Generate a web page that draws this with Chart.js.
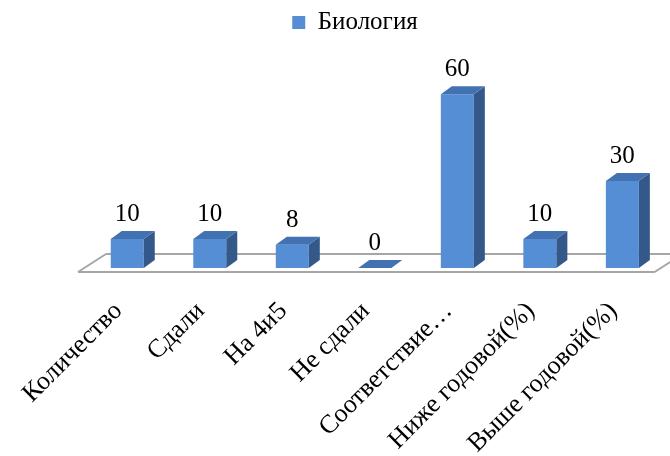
<!DOCTYPE html>
<html>
<head>
<meta charset="utf-8">
<script src="https://cdn.jsdelivr.net/npm/chart.js@4"></script>
<style>
  html, body { margin: 0; padding: 0; background: #fff; }
  #wrap { width: 670px; height: 456px; }
</style>
</head>
<body>
<div id="wrap"><canvas id="chart" width="670" height="456"></canvas></div>
<script>
const categories = ["Количество", "Сдали", "На 4и5", "Не сдали", "Соответствие…", "Ниже годовой(%)", "Выше годовой(%)"];
const seriesName = "Биология";
const values = [10, 10, 8, 0, 60, 10, 30];

const FRONT = "#568ED6";
const TOP = "#4272B2";
const SIDE = "#34588A";
const DX = 11, DY = 8;
const SERIF = "'Liberation Serif', 'Times New Roman', serif";

// floor under the bars
const floorPlugin = {
  id: "floor",
  beforeDatasetsDraw(chart) {
    const ctx = chart.ctx;
    const area = chart.chartArea;
    const base = chart.scales.y.getPixelForValue(0);
    ctx.save();
    ctx.strokeStyle = "#a6a6a6";
    ctx.lineWidth = 2;
    ctx.beginPath();
    ctx.moveTo(area.left + 20, base - 14);
    ctx.lineTo(area.right + 24, base - 14);
    ctx.moveTo(area.left - 8, base + 4);
    ctx.lineTo(area.right - 9, base + 4);
    ctx.moveTo(area.left - 8, base + 4);
    ctx.lineTo(area.left + 20, base - 14);
    ctx.moveTo(area.right - 9, base + 4);
    ctx.lineTo(area.right + 19, base - 14);
    ctx.stroke();
    ctx.restore();
  }
};

// top and side faces + value labels
const boxPlugin = {
  id: "box3d",
  afterDatasetsDraw(chart) {
    const ctx = chart.ctx;
    const meta = chart.getDatasetMeta(0);
    ctx.save();
    meta.data.forEach((bar, i) => {
      const l = bar.x - bar.width / 2;
      const r = bar.x + bar.width / 2;
      const t = bar.y;
      const b = bar.base;

      ctx.fillStyle = SIDE;
      ctx.beginPath();
      ctx.moveTo(r, t);
      ctx.lineTo(r + DX, t - DY);
      ctx.lineTo(r + DX, b - DY);
      ctx.lineTo(r, b);
      ctx.closePath();
      ctx.fill();

      ctx.fillStyle = TOP;
      ctx.beginPath();
      ctx.moveTo(l, t);
      ctx.lineTo(l + DX, t - DY);
      ctx.lineTo(r + DX, t - DY);
      ctx.lineTo(r, t);
      ctx.closePath();
      ctx.fill();

      ctx.fillStyle = "#000";
      ctx.font = "25px " + SERIF;
      ctx.textAlign = "center";
      ctx.textBaseline = "alphabetic";
      ctx.fillText(String(values[i]), bar.x, t - 18);
    });
    ctx.restore();
  }
};

new Chart(document.getElementById("chart"), {
  type: "bar",
  data: {
    labels: categories,
    datasets: [{
      label: seriesName,
      data: values,
      backgroundColor: FRONT,
      borderWidth: 0,
      barPercentage: 0.4,
      categoryPercentage: 1.0
    }]
  },
  options: {
    responsive: false,
    animation: false,
    layout: { padding: { left: 46, right: 6, top: 2, bottom: 0 } },
    plugins: {
      legend: {
        display: true,
        position: "top",
        labels: {
          boxWidth: 13,
          boxHeight: 13,
          padding: 8,
          color: "#000",
          font: { family: SERIF, size: 25 }
        }
      },
      tooltip: { enabled: false }
    },
    scales: {
      x: {
        grid: { display: false, drawTicks: false },
        border: { display: false },
        ticks: {
          autoSkip: false,
          minRotation: 45,
          maxRotation: 45,
          padding: 28,
          labelOffset: -9,
          color: "#000",
          font: { family: SERIF, size: 26 }
        },
        afterFit(scale) {
          scale.paddingLeft = 86;
          scale.height = 188;
        }
      },
      y: {
        display: false,
        min: 0,
        max: 77
      }
    }
  },
  plugins: [floorPlugin, boxPlugin]
});
</script>
</body>
</html>
